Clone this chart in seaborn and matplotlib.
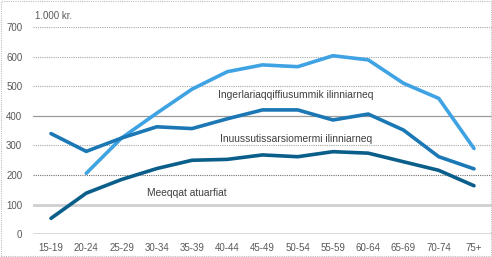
import matplotlib
matplotlib.use("Agg")
import matplotlib.pyplot as plt
import seaborn as sns
import pandas as pd
import numpy as np
from matplotlib.patches import Rectangle

categories = ["15-19", "20-24", "25-29", "30-34", "35-39", "40-44", "45-49",
              "50-54", "55-59", "60-64", "65-69", "70-74", "75+"]
meeqqat = [54, 139, 185, 222, 250, 253, 268, 262, 279, 274, 245, 216, 164]
inuussutissarsiomermi = [340, 280, 325, 363, 357, 390, 420, 420, 386, 406, 352, 262, 221]
ingerlariaqqiffiusummik = [np.nan, 206, 325, 409, 490, 549, 572, 566, 603, 589, 510, 459, 290]
yticks = [0, 100, 200, 300, 400, 500, 600, 700]

names = ["Ingerlariaqqiffiusummik ilinniarneq", "Inuussutissarsiomermi ilinniarneq", "Meeqqat atuarfiat"]
series = [ingerlariaqqiffiusummik, inuussutissarsiomermi, meeqqat]
colors = ["#3fa3e3", "#1b78b5", "#0a5e8a"]

rows = []
for n, s in zip(names, series):
    for i, (c, v) in enumerate(zip(categories, s)):
        rows.append({"serie": n, "x": i, "v": v})
df = pd.DataFrame(rows)

sns.set_theme(style="white")
plt.rcParams["font.family"] = ["Liberation Sans", "DejaVu Sans"]

fig = plt.figure(figsize=(4.92, 2.57), dpi=100)
ax = fig.add_axes([33.4 / 492, 1 - 234.3 / 257, (491.6 - 33.4) / 492, (234.3 - 27) / 257])

# gridlines
grid_styles = {
    700: dict(color="#a6a6a6", lw=0.8, ls=(0, (1, 1))),
    600: dict(color="#a6a6a6", lw=0.8, ls=(0, (1, 1))),
    500: dict(color="#a6a6a6", lw=0.8, ls=(0, (1, 1))),
    400: dict(color="#9a9a9a", lw=0.9, ls="-"),
    300: dict(color="#a6a6a6", lw=0.8, ls=(0, (1, 1))),
    200: dict(color="#707070", lw=0.8, ls=(0, (1, 1))),
    100: dict(color="#cfcfcf", lw=2.0, ls="-"),
    0: dict(color="#404040", lw=1.0, ls="-"),
}
for yv, st in grid_styles.items():
    ax.axhline(yv, zorder=1, **st)

for n, c in zip(names, colors):
    sub = df[df["serie"] == n]
    sns.lineplot(data=sub, x="x", y="v", ax=ax, color=c, lw=2.6, zorder=3,
                 legend=False, estimator=None)

ax.set_xlim(-0.5, len(categories) - 0.5)
ax.set_ylim(0, 700)
ax.set_xticks(range(len(categories)))
ax.set_xticklabels(categories)
ax.set_yticks(yticks)
ax.tick_params(axis="both", labelsize=7, colors="#595959", length=0, pad=6)
ax.tick_params(axis="y", pad=8)
ax.set_xlabel("")
ax.set_ylabel("")
for sp in ax.spines.values():
    sp.set_visible(False)
ax.grid(False)

ax.text(0.003, 1.055, "1.000 kr.", transform=ax.transAxes, fontsize=7, color="#595959",
        ha="left", va="center")
ax.text(4.74, 470, names[0], fontsize=7.4, color="#404040", ha="left", va="center")
ax.text(4.8, 323, names[1], fontsize=7.4, color="#404040", ha="left", va="center")
ax.text(2.72, 140, names[2], fontsize=7.4, color="#404040", ha="left", va="center")

fig.patches.append(Rectangle((0.002, 0.004), 0.996, 0.992, transform=fig.transFigure,
                             fill=False, ec="#c0c0c0", lw=0.8, ls=(0, (1, 1))))

fig.savefig("out.png", dpi=100)
